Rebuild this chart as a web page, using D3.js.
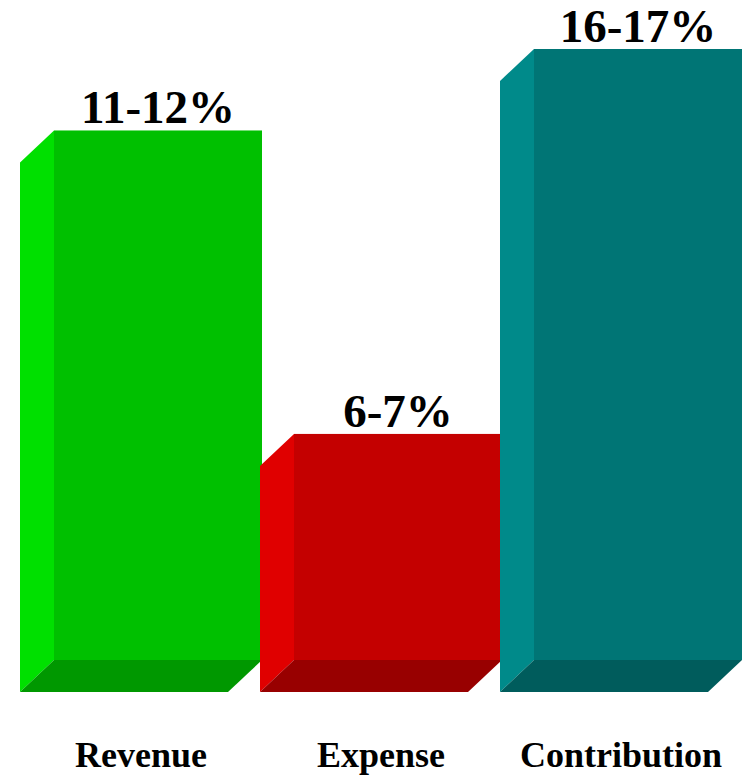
<!DOCTYPE html>
<html>
<head>
<meta charset="utf-8">
<script src="https://cdn.jsdelivr.net/npm/d3@7"></script>
<style>
  body { margin: 0; background: #fff; }
  text { font-family: "Liberation Serif", "Times New Roman", serif; font-weight: bold; fill: #000; }
</style>
</head>
<body>
<script>
// chart data
const categories = ["Revenue", "Expense", "Contribution"];
const barValues = [13, 5.55, 15];
const valueLabels = ["11-12%", "6-7%", "16-17%"];

const frontColors = ["#00c000", "#c40000", "#007575"];
const sideColors = ["#00e000", "#e00000", "#008a8a"];
const bottomColors = ["#009800", "#980000", "#005c5c"];

const width = 745, height = 776;
const depthX = 34, depthY = 32;

const data = categories.map((c, i) => ({
  name: c, value: barValues[i], label: valueLabels[i],
  front: frontColors[i], side: sideColors[i], bottom: bottomColors[i]
}));

const svg = d3.select("body").
  append("svg").
  attr("width", width).
  attr("height", height);

const x = d3.scaleBand().
  domain(categories).
  range([20, 740]).
  padding(0);

const y = d3.scaleLinear().
  domain([0, 15]).
  range([660, 49]);

const barW = 208;

const bars = svg.selectAll("g.bar").
  data(data).
  enter().
  append("g").
  attr("class", "bar");

// back face
bars.append("rect").
  attr("x", d => x(d.name) + depthX).
  attr("y", d => y(d.value)).
  attr("width", barW).
  attr("height", d => y(0) - y(d.value)).
  attr("fill", d => d.front);

// left side face
bars.append("polygon").
  attr("points", d => {
    const x0 = x(d.name), x1 = x0 + depthX;
    return [[x0, y(d.value) + depthY], [x1, y(d.value)], [x1, y(0)], [x0, y(0) + depthY]].join(" ");
  }).
  attr("fill", d => d.side);

// bottom face
bars.append("polygon").
  attr("points", d => {
    const x0 = x(d.name), x1 = x0 + depthX;
    return [[x0, y(0) + depthY], [x1, y(0)], [x1 + barW, y(0)], [x0 + barW, y(0) + depthY]].join(" ");
  }).
  attr("fill", d => d.bottom);

// value labels
bars.append("text").
  attr("x", d => x(d.name) + depthX + barW / 2).
  attr("y", d => y(d.value) - 7).
  attr("text-anchor", "middle").
  style("font-size", "47px").
  text(d => d.label);

// category labels
bars.append("text").
  attr("x", d => x(d.name) + (depthX + barW) / 2).
  attr("y", 767).
  attr("text-anchor", "middle").
  style("font-size", "36px").
  text(d => d.name);
</script>
</body>
</html>
